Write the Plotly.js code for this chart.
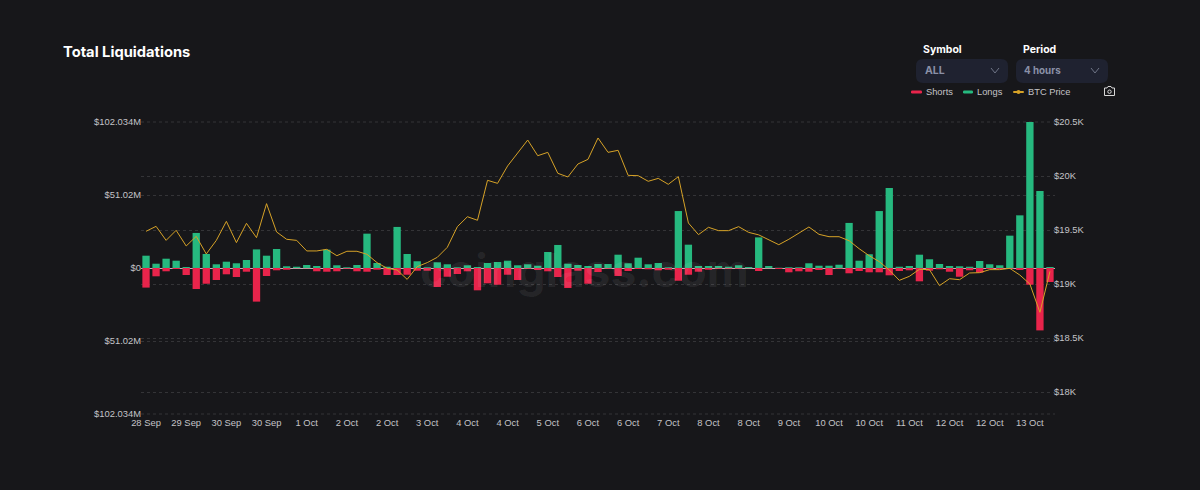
<!DOCTYPE html>
<html>
<head>
<meta charset="utf-8">
<script src="https://cdn.plot.ly/plotly-3.0.1.min.js"></script>
<style>html,body{margin:0;padding:0;background:#17171a;}#chart{width:1200px;height:490px;}</style>
</head>
<body>
<div id="chart"></div>
<script>
// Millions of USD
const longs = [8.6,3.0,6.5,5.1,0.7,24.5,9.8,2.6,4.4,3.3,5.6,13.0,8.6,13.3,1.2,0.9,2.1,1.4,12.8,1.9,0.5,2.1,24.0,3.5,0.9,28.7,9.8,4.7,0.5,4.0,2.6,0.5,1.9,0.7,3.5,4.2,5.1,1.9,2.6,1.6,11.2,16.1,3.0,2.1,1.4,2.8,2.8,9.3,3.3,7.2,2.6,3.5,0.5,39.8,16.3,1.4,1.4,1.4,0.9,1.9,0.7,21.4,1.4,0.2,0.5,0.5,3.3,1.6,1.6,2.3,31.5,5.1,9.6,39.8,55.9,0.9,1.4,9.3,6.1,2.8,1.4,1.2,0.9,4.9,2.6,1.9,22.6,36.8,102.034,53.8,0.7];
const shorts = [13.7,5.8,2.3,0.7,4.9,14.7,11.0,8.4,4.4,6.3,2.6,23.5,5.6,1.6,1.2,0.2,0.2,2.3,2.6,2.3,0.5,2.3,2.6,1.2,4.9,4.9,4.7,1.9,1.9,13.3,6.1,4.2,2.3,15.6,10.7,11.7,4.7,8.4,0.5,1.4,2.3,6.3,14.0,1.9,11.0,2.8,0.5,5.6,2.1,0.7,0.9,1.6,1.2,8.9,4.7,2.6,1.2,0.5,0.5,0.5,0.2,2.1,0.2,0.7,3.0,2.3,2.6,1.4,4.9,0.5,3.7,2.1,3.0,3.0,5.1,2.1,1.6,9.3,1.9,0.9,2.6,6.1,1.6,3.3,0.7,0.7,0.5,1.4,11.7,43.6,9.8];
const btcPrice = [19488,19534,19404,19497,19352,19441,19278,19404,19580,19383,19562,19429,19744,19482,19414,19404,19306,19306,19321,19262,19303,19303,19275,19198,19145,19130,19043,19161,19198,19247,19340,19531,19623,19590,19960,19932,20093,20216,20333,20188,20219,20025,19991,20111,20154,20352,20219,20238,20006,20003,19951,19978,19923,19994,19565,19457,19525,19494,19494,19531,19478,19455,19407,19364,19414,19469,19528,19460,19438,19438,19401,19327,19262,19207,19130,19034,19071,19136,19133,18985,19049,19040,19102,19105,19133,19133,19145,19083,19000,18738,19117];
const xTickLabels = ["28 Sep","29 Sep","30 Sep","30 Sep","1 Oct","2 Oct","2 Oct","3 Oct","4 Oct","4 Oct","5 Oct","6 Oct","6 Oct","7 Oct","8 Oct","8 Oct","9 Oct","10 Oct","10 Oct","11 Oct","12 Oct","12 Oct","13 Oct"];
const leftTickVals = [102.034,51.017,0,-51.017,-102.034];
const leftTickText = ["$102.034M","$51.02M","$0","$51.02M","$102.034M"];
const rightTickVals = [20500,20000,19500,19000,18500,18000];
const rightTickText = ["$20.5K","$20K","$19.5K","$19K","$18.5K","$18K"];

const FONT = "Inter, 'Liberation Sans', sans-serif";
const TICKFONT = "'Liberation Sans', Arial, sans-serif";
const GRID = "#343437";
const L = 141, R = 1055, T = 122, B = 414;
const px = x => (x - L) / (R - L);
const py = y => (B - y) / (B - T);
const P = (x, y) => px(x).toFixed(5) + "," + py(y).toFixed(5);

function rrect(x0, y0, x1, y1, r, fill) {
  return {type:"path", xref:"paper", yref:"paper", fillcolor:fill, line:{width:0}, layer:"below",
    path:`M${P(x0+r,y0)} L${P(x1-r,y0)} Q${P(x1,y0)} ${P(x1,y0+r)} L${P(x1,y1-r)} Q${P(x1,y1)} ${P(x1-r,y1)} L${P(x0+r,y1)} Q${P(x0,y1)} ${P(x0,y1-r)} L${P(x0,y0+r)} Q${P(x0,y0)} ${P(x0+r,y0)} Z`};
}
function stroke(path, color, w) {
  return {type:"path", xref:"paper", yref:"paper", path, line:{color, width:w}};
}
function edgeGrid(yFrac) {
  return {type:"line", xref:"paper", yref:"paper", x0:0, x1:1, y0:yFrac, y1:yFrac, layer:"below",
    line:{color:GRID, width:1, dash:"3px,3px"}};
}
function label(text, x, y, size, color, bold, font) {
  return {text: bold ? "<b>"+text+"</b>" : text, xref:"paper", yref:"paper", x:px(x), y:py(y),
    xanchor:"left", yanchor:"middle", showarrow:false, font:{size, color, family:font||FONT}};
}

const idx = longs.map((_, i) => i);
const traces = [
  {type:"bar", name:"Shorts", x:idx, y:shorts.map(v => -v), marker:{color:"#e8244b"}, width:0.73, yaxis:"y"},
  {type:"bar", name:"Longs", x:idx, y:longs, marker:{color:"#26b97f"}, width:0.73, yaxis:"y"},
  {type:"scatter", mode:"lines", name:"BTC Price", x:idx, y:btcPrice, yaxis:"y2", line:{color:"#d6a227", width:1}}
];
const axisText = {size:9.4, color:"#c4c4c8", family:TICKFONT};
const layout = {
  width:1200, height:490, paper_bgcolor:"#17171a", plot_bgcolor:"#17171a",
  margin:{l:L, r:1200-R, t:T, b:490-B, pad:0}, barmode:"overlay", showlegend:false, font:{family:FONT},
  xaxis:{range:[-0.5,90.5], tickvals:xTickLabels.map((_, i) => i*4), ticktext:xTickLabels, tickangle:0,
    showgrid:false, zeroline:false, showline:false, ticks:"", tickfont:axisText, ticklabelstandoff:2},
  yaxis:{range:[-102.034,102.034], tickvals:leftTickVals, ticktext:leftTickText, tickfont:axisText, ticklabelstandoff:-1,
    showgrid:true, gridcolor:GRID, griddash:"3px,3px", gridwidth:1, zeroline:true, zerolinecolor:"#b8b8b8", zerolinewidth:1, ticks:""},
  yaxis2:{overlaying:"y", side:"right", range:[17796.3,20500], tickvals:rightTickVals, ticktext:rightTickText, tickfont:axisText, ticklabelstandoff:-2,
    showgrid:true, gridcolor:GRID, griddash:"3px,3px", gridwidth:1, zeroline:false, ticks:""},
  shapes:[
    edgeGrid(1), edgeGrid(0),
    rrect(916,59,1008,83,7,"#1f2230"),
    rrect(1016,59,1108,83,7,"#1f2230"),
    stroke(`M${P(991,68)} L${P(995,73)} L${P(999,68)}`,"#6f7587",1),
    stroke(`M${P(1091,68)} L${P(1095,73)} L${P(1099,68)}`,"#6f7587",1),
    rrect(911,90.5,922,93.5,1.2,"#e8244b"),
    rrect(963,90.5,973,93.5,1.2,"#26b97f"),
    rrect(1013,91,1024,93,1,"#d6a227"),
    {type:"circle", xref:"paper", yref:"paper", x0:px(1016.5), x1:px(1020.5), y0:py(94), y1:py(90), fillcolor:"#d6a227", line:{width:0}},
    stroke(`M${P(1104.5,88)} L${P(1107,88)} L${P(1108,86.5)} L${P(1111,86.5)} L${P(1112,88)} L${P(1114.5,88)} L${P(1114.5,95.5)} L${P(1104.5,95.5)} Z`,"#d8d8d8",1),
    {type:"circle", xref:"paper", yref:"paper", x0:px(1107.8), x1:px(1111.2), y0:py(93.4), y1:py(90), line:{color:"#d8d8d8", width:1}}
  ],
  annotations:[
    label("Total Liquidations",61,52,14.7,"#ffffff",true),
    label("Symbol",920.5,49,10.5,"#ffffff",true),
    label("Period",1020.5,49,10.5,"#ffffff",true),
    label("ALL",922.5,70.5,10.5,"#8a90a6",true),
    label("4 hours",1022,70.5,9.8,"#8a90a6",true),
    label("Shorts",923.5,92,9.3,"#c4c4c8",false,TICKFONT),
    label("Longs",974.5,92,9.3,"#c4c4c8",false,TICKFONT),
    label("BTC Price",1025.5,92,9.3,"#c4c4c8",false,TICKFONT),
    {text:"<b>coinglass.com</b>", xref:"paper", yref:"paper", x:px(584), y:py(270), xanchor:"center", yanchor:"middle",
     showarrow:false, font:{size:46, color:"rgba(255,255,255,0.07)", family:FONT}}
  ]
};
Plotly.newPlot("chart", traces, layout, {displayModeBar:false, staticPlot:true});
</script>
</body>
</html>
